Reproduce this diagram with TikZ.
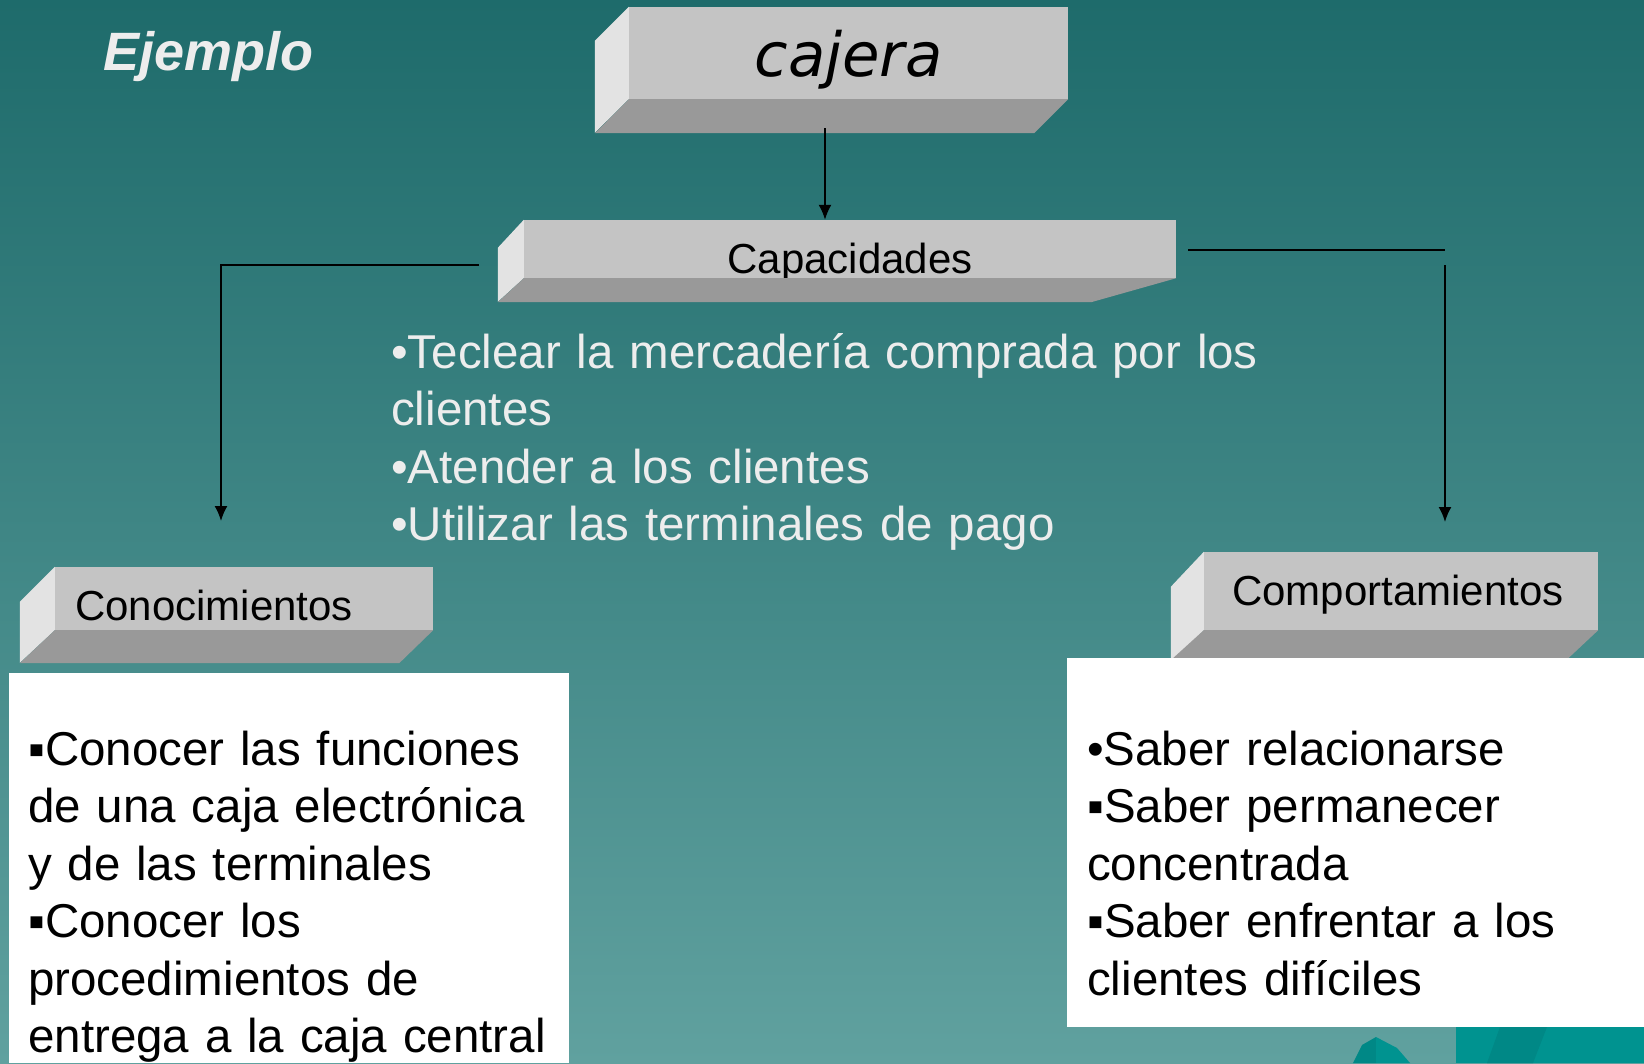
\documentclass[tikz,border=0pt]{standalone}
\usepackage{fontspec}
\setmainfont{Liberation Sans}
\newfontfamily\cajfamily{DejaVu Sans}
\usetikzlibrary{arrows.meta}
\definecolor{bgtop}{HTML}{1E6B6B}
\definecolor{bgmid}{HTML}{488B8A}
\definecolor{bgbot}{HTML}{60A19F}
\definecolor{boxfront}{HTML}{C4C4C4}
\definecolor{boxside}{HTML}{E3E3E3}
\definecolor{boxfloor}{HTML}{999999}
\definecolor{paletext}{HTML}{EDEDED}
\definecolor{sealight}{HTML}{009390}
\definecolor{seadark}{HTML}{008886}
\tikzset{
	face/.style={fill=boxfront, inner ysep=0pt, text depth=0pt, font=\fontsize{42}{50}\selectfont},
	sideface/.style={fill=boxside},
	floorface/.style={fill=boxfloor},
	link/.style={line width=1.8pt},
	arr/.style={link, -{Latex[length=15pt,width=13pt]}},
	listtext/.style={anchor=base west, align=left, inner sep=0pt, font=\fontsize{47.5}{57.5}\selectfont}
}
\begin{document}
\begin{tikzpicture}[x=1pt,y=-1pt]
	\shade[top color=bgtop, middle color=bgmid, bottom color=bgbot] (0,0) rectangle (1644,1063);
	\useasboundingbox (0,0) rectangle (1644,1063);

	\node[anchor=base west, inner sep=0pt, text=paletext, font=\bfseries\itshape\fontsize{54}{60}\selectfont] (ejm) at (103,70) {Ejemplo};

	\node[face, minimum width=439pt, minimum height=92pt, text height=46pt, font=\cajfamily\itshape\fontsize{61}{70}\selectfont] (caj) at (848.5,53) {cajera};
	\fill[sideface] (caj.north west) -- ++(-34,34) -- ++(0,92) -- (caj.south west) -- cycle;
	\fill[floorface] (caj.south west) -- (caj.south east) -- ++(-34,34) -- ([shift={(-34,34)}]caj.south west) -- cycle;

	\node[face, minimum width=652pt, minimum height=58pt, text height=48pt] (cap) at (850,249) {Capacidades};
	\fill[sideface] (cap.north west) -- ++(-26,28) -- ++(0,54) -- (cap.south west) -- cycle;
	\fill[floorface] (cap.south west) -- (cap.south east) -- ++(-85,24) -- ([shift={(-26,24)}]cap.south west) -- cycle;

	\node[face, text width=338pt, inner xsep=20pt, minimum height=63pt, text height=43pt, align=left] (con) at (244,598.5) {\mbox{Conocimientos}};
	\fill[sideface] (con.north west) -- ++(-35,35) -- ++(0,61) -- (con.south west) -- cycle;
	\fill[floorface] (con.south west) -- (con.south east) -- ++(-34,33) -- ([shift={(-35,33)}]con.south west) -- cycle;

	\node[face, text width=338pt, inner xsep=28pt, minimum height=78pt, text height=28pt, align=left] (com) at (1401,591) {\mbox{Comportamientos}};
	\fill[sideface] (com.north west) -- ++(-33,35) -- ++(0,78) -- (com.south west) -- cycle;
	\fill[floorface] (com.south west) -- (com.south east) -- ++(-32,30) -- ([shift={(-33,30)}]com.south west) -- cycle;

	\fill[white] (9,673) rectangle (569,1063);
	\fill[white] (1067,658) rectangle (1644,1027);

	\node[listtext, text=paletext, text width=1000pt] (capl) at (391,368) {•Teclear la mercadería comprada por los\\clientes\\•Atender a los clientes\\•Utilizar las terminales de pago};
	\node[listtext, text width=540pt] (conl) at (28,765) {▪Conocer las funciones\\de una caja electrónica\\y de las terminales\\▪Conocer los\\procedimientos de\\entrega a la caja central};
	\node[listtext, text width=550pt] (coml) at (1087,765) {•Saber relacionarse\\▪Saber permanecer\\concentrada\\▪Saber enfrentar a los\\clientes difíciles};

	\coordinate (cajout) at (825,128);
	\coordinate (capL) at (479,265);
	\coordinate (conin) at (221,521);
	\coordinate (capR) at (1188,250);
	\coordinate (comtop) at (1445,265);
	\coordinate (comin) at (1445,522);
	\draw[arr] (cajout) -- (cajout |- cap.north);
	\draw[arr] (capL) -| (conin);
	\draw[link] (capR) -- (capR -| comin);
	\draw[arr] (comtop) -- (comin);

	\fill[sealight] (1456,1027) rectangle (1644,1063);
	\fill[seadark] (1487,1063) -- (1500,1027) -- (1547,1027) -- (1533,1063) -- cycle;
	\fill[seadark] (1353,1063) -- (1362,1045) -- (1376,1037) -- (1376,1063) -- cycle;
	\fill[sealight] (1376,1037) -- (1397,1048) -- (1410,1063) -- (1376,1063) -- cycle;
\end{tikzpicture}
\end{document}
